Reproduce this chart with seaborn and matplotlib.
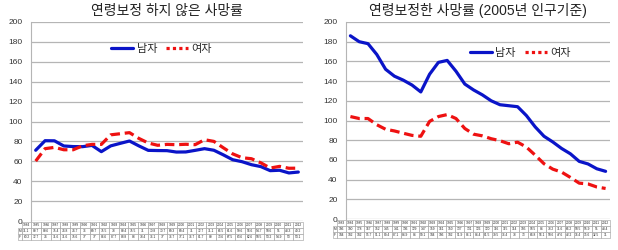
import seaborn as sns
import matplotlib.pyplot as plt
from matplotlib.lines import Line2D

# left panel: crude rate, 1984-2012
years_l = list(range(1984, 2013))
male_l = [71.1, 80.7, 80.6, 75.4, 74.8, 74.7, 76, 69.7, 75.5, 78, 80.4, 75.5, 71, 70.8, 70.7,
          69.3, 69.4, 71, 72.7, 71.1, 66.5, 61.6, 59.6, 56.6, 54.7, 50.6, 51.0, 48.3, 49.2]
female_l = [60.2, 72.7, 74, 71.6, 71.6, 75.6, 77.0, 77, 86.6, 87.7, 88.8, 83.0, 78.4, 76.1, 77.0,
            76.7, 77.1, 76.7, 81.7, 80, 73.6, 67.5, 63.6, 62.6, 58.5, 53.2, 54.9, 53.0, 53.1]

# right panel: age-standardised rate (2005 population), 1983-2012
years_r = list(range(1983, 2013))
male_r = [186, 180, 178, 167, 152, 145, 141, 136, 129, 147, 159, 161, 150, 137, 131,
          126, 120, 116, 115, 114, 105, 93.5, 84.0, 78.2, 71.6, 66.2, 58.5, 55.9, 51.0, 48.4]
female_r = [104, 102, 102, 95.7, 91.1, 89.4, 87.1, 84.9, 84.0, 99.1, 104, 106, 102, 91.9, 86.1,
            84.4, 81.5, 79.5, 76.4, 78.0, 73.0, 64.8, 56.1, 50.6, 47.6, 42.2, 36.4, 35.6, 32.5, 31.0]

titles = ['연령보정 하지 않은 사망률', '연령보정한 사망률 (2005년 인구기준)']
labels = ['남자', '여자']

sns.set_style('white')
plt.rcParams['font.family'] = ['Liberation Sans', 'Noto Sans CJK KR', 'DejaVu Sans']

fig = plt.figure(figsize=(6.18, 2.5), dpi=100)
ax1 = fig.add_axes([31 / 618, 29 / 250, 272 / 618, 199 / 250])
ax2 = fig.add_axes([346 / 618, 31 / 250, 264 / 618, 197 / 250])


def fmt(v):
    s = ('%.1f' % v)
    return s[:-2] if s.endswith('.0') else s


def draw(ax, years, male, female, title, leg_pos):
    x = list(range(len(years)))
    sns.lineplot(x=x, y=male, ax=ax, color='#0a14c8', linewidth=2.3)
    sns.lineplot(x=x, y=female, ax=ax, color='#ee1111', linewidth=2.3, linestyle=(0, (3, 1.5)))
    ax.set_xlim(-0.5, len(years) - 0.5)
    ax.set_ylim(0, 200)
    ax.set_yticks(range(0, 201, 20))
    ax.tick_params(axis='y', labelsize=6, length=0, pad=6, colors='#333333')
    ax.set_xticks([])
    ax.grid(axis='y', color='#b5b5b5', linewidth=0.9)
    for s in ['top', 'right', 'bottom']:
        ax.spines[s].set_visible(False)
    ax.spines['left'].set_color('#b5b5b5')
    ax.set_title(title, fontsize=10, pad=5, color='#222222')

    handles = [Line2D([], [], color='#0a14c8', linewidth=2.3),
               Line2D([], [], color='#ee1111', linewidth=2.3, linestyle=(0, (1, 1)))]
    ax.legend(handles, labels, loc='center', bbox_to_anchor=leg_pos, ncol=2, frameon=False,
              fontsize=8, handlelength=2.0, handletextpad=0.3, columnspacing=0.8)

    n = len(years)
    cells = [[fmt(v) for v in male], [fmt(v) for v in female]]
    rw = 0.035
    tb = ax.table(cellText=cells, rowLabels=['M', 'F'], colLabels=[str(y) for y in years],
                  colWidths=[1 / n] * n, rowLoc='center', cellLoc='center',
                  bbox=[-rw, -0.095, 1 + rw, 0.09])
    tb.auto_set_font_size(False)
    tb.set_fontsize(2.3)
    for cell in tb.get_celld().values():
        cell.set_edgecolor('#999999')
        cell.set_linewidth(0.4)


draw(ax1, years_l, male_l, female_l, titles[0], (0.48, 0.864))
draw(ax2, years_r, male_r, female_r, titles[1], (0.66, 0.843))

plt.savefig('out.png', dpi=100)
